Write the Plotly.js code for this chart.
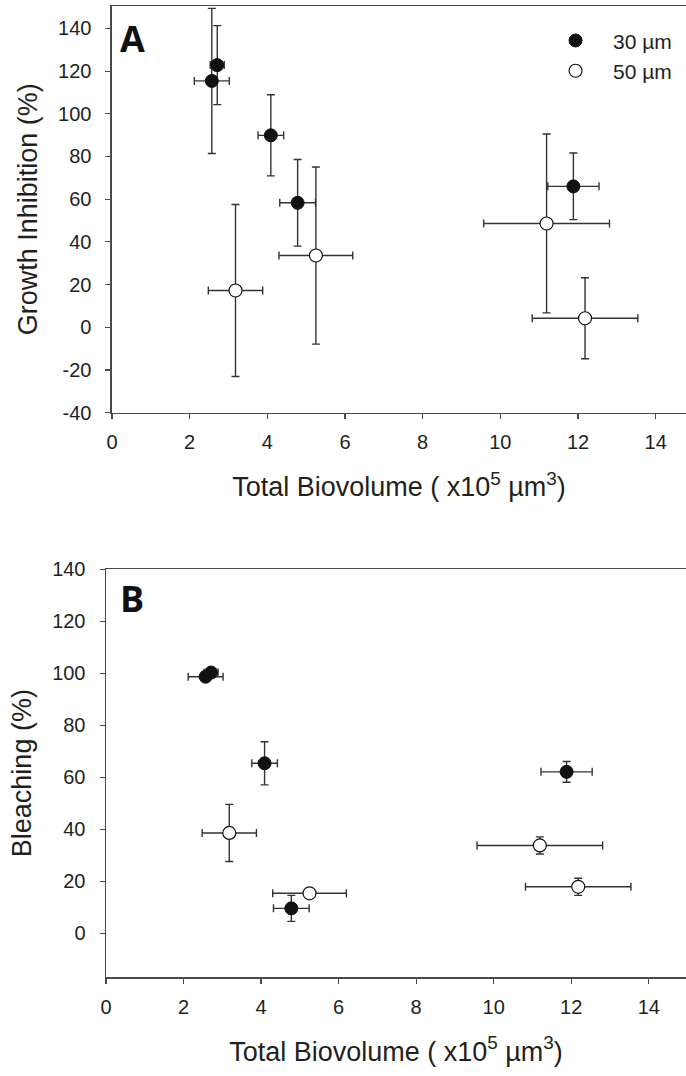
<!DOCTYPE html>
<html>
<head>
<meta charset="utf-8">
<script src="https://cdn.plot.ly/plotly-3.0.1.min.js"></script>
<style>html,body{margin:0;padding:0;background:#fff;}#chart{width:686px;height:1076px;}</style>
</head>
<body>
<div id="chart"></div>
<script>
// Total biovolume (x10^5 µm^3) with horizontal error
const xVol30 = [2.57, 2.71, 4.09, 4.78, 11.88];
const xVol30Err = [0.45, 0.18, 0.33, 0.46, 0.66];
const xVol50 = [3.18, 5.25, 11.19, 12.18];
const xVol50Err = [0.70, 0.95, 1.62, 1.36];
// Panel A: growth inhibition (%)
const growth30 = [115.4, 122.8, 89.9, 58.3, 66.0];
const growth30Err = [34, 18.5, 19, 20.3, 15.6];
const growth50 = [17.2, 33.6, 48.6, 4.2];
const growth50Err = [40.3, 41.5, 41.9, 19];
// Panel B: bleaching (%)
const bleach30 = [98.7, 100.3, 65.4, 9.6, 62.1];
const bleach30Err = [1.5, 1.5, 8.3, 5, 4];
const bleach50 = [38.6, 15.4, 33.8, 17.9];
const bleach50Err = [11, 1.5, 3.3, 3.3];
const seriesNames = ['30 µm', '50 µm'];
const xTicks = [0, 2, 4, 6, 8, 10, 12, 14];
const yTicksA = [-40, -20, 0, 20, 40, 60, 80, 100, 120, 140];
const yTickTextA = ['-40', '-20', '0', '20', '40', '60', '80', '100', '120', '140'];
const yTicksB = [0, 20, 40, 60, 80, 100, 120, 140];

const NB = '\u00a0\u00a0\u00a0';
const textColor = '#231f20';
const errColor = '#333333';
function errX(arr){return {type:'data', array:arr, visible:true, color:errColor, thickness:1.4, width:4};}
function errY(arr){return {type:'data', array:arr, visible:true, color:errColor, thickness:1.4, width:4};}
const filled = {symbol:'circle', size:13, color:'#111111', line:{color:'#111111', width:1}};
const open = {symbol:'circle', size:13, color:'#ffffff', line:{color:'#111111', width:1.2}};

const traces = [
  {x:xVol30, y:growth30, error_x:errX(xVol30Err), error_y:errY(growth30Err), mode:'markers', type:'scatter',
   marker:filled, name:NB+seriesNames[0], xaxis:'x', yaxis:'y', showlegend:true},
  {x:xVol50, y:growth50, error_x:errX(xVol50Err), error_y:errY(growth50Err), mode:'markers', type:'scatter',
   marker:open, name:NB+seriesNames[1], xaxis:'x', yaxis:'y', showlegend:true},
  {x:xVol30, y:bleach30, error_x:errX(xVol30Err), error_y:errY(bleach30Err), mode:'markers', type:'scatter',
   marker:filled, name:seriesNames[0], xaxis:'x2', yaxis:'y2', showlegend:false},
  {x:xVol50, y:bleach50, error_x:errX(xVol50Err), error_y:errY(bleach50Err), mode:'markers', type:'scatter',
   marker:open, name:seriesNames[1], xaxis:'x2', yaxis:'y2', showlegend:false}
];

const L = 105.7, R = 686, T = 5.7, B = 976.7;
const W = R - L, H = B - T;
function px(x){return (x - L) / W;}
function py(y){return (B - y) / H;}

const tickFont = {family:'Liberation Sans, Arial, sans-serif', size:20, color:textColor};
const titleFont = {family:'Liberation Sans, Arial, sans-serif', size:27, color:textColor};
const axisLine = {showline:true, linecolor:'#4a4a4a', linewidth:1.5, ticks:'outside', ticklen:5, tickwidth:1.2,
  tickcolor:'#4a4a4a', showgrid:false, zeroline:false, tickfont:tickFont};

const xTitle = 'Total Biovolume ( x10<sup>5</sup> µm<sup>3</sup>)';

const layout = {
  width:686, height:1076,
  margin:{l:L, r:0, t:T, b:1076 - B},
  paper_bgcolor:'#ffffff', plot_bgcolor:'#ffffff',
  font:{family:'Liberation Sans, Arial, sans-serif', color:textColor},
  showlegend:true,
  legend:{x:px(555.5), y:py(20), xanchor:'left', yanchor:'top', font:{size:21, color:textColor},
    bgcolor:'rgba(0,0,0,0)', borderwidth:0, tracegroupgap:0},
  xaxis: Object.assign({}, axisLine, {domain:[px(111.7), 1], range:[0, 14.78], tickvals:xTicks, mirror:true,
    anchor:'y', title:{text:xTitle, font:titleFont, standoff:25}, ticklabelstandoff:6}),
  yaxis: Object.assign({}, axisLine, {domain:[py(412.3), 1], range:[-40, 150.5], tickvals:yTicksA, ticktext:yTickTextA,
    anchor:'x', title:{text:'Growth Inhibition (%)', font:titleFont, standoff:12}, ticklabelstandoff:10}),
  xaxis2: Object.assign({}, axisLine, {domain:[0, 1], range:[0, 14.96], tickvals:xTicks, mirror:true,
    anchor:'y2', title:{text:xTitle, font:titleFont, standoff:25}, ticklabelstandoff:6}),
  yaxis2: Object.assign({}, axisLine, {domain:[0, py(569)], range:[-16.8, 140], tickvals:yTicksB,
    anchor:'x2', title:{text:'Bleaching (%)', font:titleFont, standoff:12}, ticklabelstandoff:10}),
  annotations:[
    {text:'<b>A</b>', xref:'paper', yref:'paper', x:px(132), y:py(38), xanchor:'center', yanchor:'middle',
     showarrow:false, font:{family:'Open Sans, Liberation Sans, sans-serif', size:36, color:'#111111'}},
    {text:'<b>B</b>', xref:'paper', yref:'paper', x:px(132), y:py(598), xanchor:'center', yanchor:'middle',
     showarrow:false, font:{family:'Open Sans, Liberation Sans, sans-serif', size:36, color:'#111111'}}
  ]
};

Plotly.newPlot('chart', traces, layout, {staticPlot:true, displayModeBar:false});
</script>
</body>
</html>
